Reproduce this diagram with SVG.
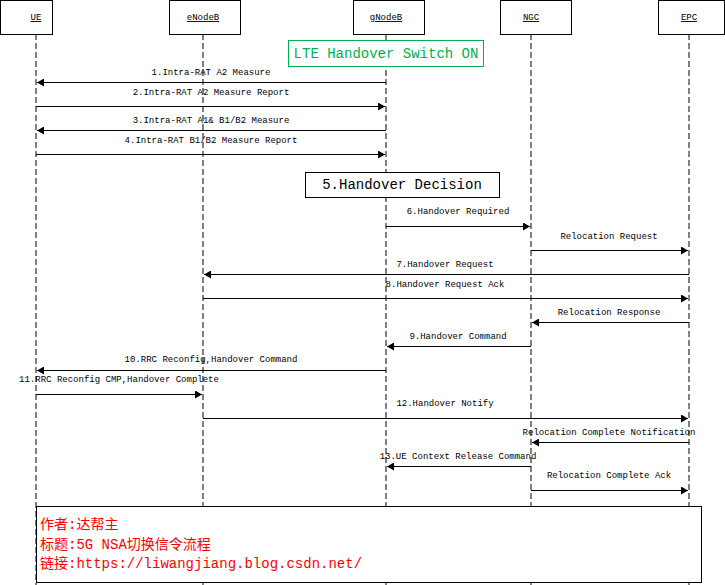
<svg xmlns="http://www.w3.org/2000/svg" width="725" height="585" viewBox="0 0 725 585">
<defs>
<marker id="ah" markerWidth="8" markerHeight="8" refX="7" refY="4" orient="auto" markerUnits="userSpaceOnUse"><path d="M0,0 L7,4 L0,8 Z" fill="#000"/></marker>
<style>
.hb{fill:#fff;stroke:#000;stroke-width:1}
.ht{font-family:"Liberation Mono",monospace;font-size:9px;text-decoration:underline;text-anchor:middle}
.ll{stroke:#000;stroke-dasharray:6,3;stroke-width:1}
.m{stroke:#000;stroke-width:1;fill:none;marker-end:url(#ah)}
.t{font-family:"Liberation Mono",monospace;font-size:9px;text-anchor:middle}
.cn{font-family:"Liberation Mono","Noto Sans CJK SC",monospace;font-size:14px;fill:#f00}
</style>
</defs>
<rect width="725" height="585" fill="#fff"/>
<g id="lifelines">
<line class="ll" x1="36" y1="34" x2="36" y2="585"/>
<line class="ll" x1="203" y1="34" x2="203" y2="585"/>
<line class="ll" x1="386" y1="34" x2="386" y2="585"/>
<line class="ll" x1="531" y1="34" x2="531" y2="585"/>
<line class="ll" x1="689" y1="34" x2="689" y2="585"/>
</g>
<g id="UE"><rect class="hb" x="0.5" y="0.5" width="52" height="34"/><text class="ht" x="36" y="20">UE</text></g>
<g id="eNodeB"><rect class="hb" x="169.5" y="0.5" width="71" height="34"/><text class="ht" x="203" y="20">eNodeB</text></g>
<g id="gNodeB"><rect class="hb" x="353.5" y="0.5" width="71" height="34"/><text class="ht" x="386" y="20">gNodeB</text></g>
<g id="NGC"><rect class="hb" x="500.5" y="0.5" width="71" height="34"/><text class="ht" x="531" y="20">NGC</text></g>
<g id="EPC"><rect class="hb" x="658.5" y="0.5" width="66" height="34"/><text class="ht" x="689" y="20">EPC</text></g>
<g id="lte"><rect x="288.5" y="40.5" width="195" height="26" fill="#fff" stroke="#00b050"/><text x="386" y="58" text-anchor="middle" font-family="Liberation Mono,monospace" font-size="14" fill="#00b050">LTE Handover Switch ON</text></g>
<g id="decision"><rect x="305.5" y="172.5" width="194" height="25" fill="#fff" stroke="#000"/><text x="402" y="189" text-anchor="middle" font-family="Liberation Mono,monospace" font-size="14">5.Handover Decision</text></g>
<g id="connectors">
<line class="m" x1="386" y1="82.5" x2="37" y2="82.5"/><text class="t" x="211" y="75">1.Intra-RAT A2 Measure</text>
<line class="m" x1="36" y1="106.5" x2="385" y2="106.5"/><text class="t" x="211" y="95">2.Intra-RAT A2 Measure Report</text>
<line class="m" x1="386" y1="130.5" x2="37" y2="130.5"/><text class="t" x="211" y="123">3.Intra-RAT A1&amp; B1/B2 Measure</text>
<line class="m" x1="36" y1="154.5" x2="385" y2="154.5"/><text class="t" x="211" y="143">4.Intra-RAT B1/B2 Measure Report</text>
<line class="m" x1="386" y1="226.5" x2="530" y2="226.5"/><text class="t" x="458" y="214">6.Handover Required</text>
<line class="m" x1="531" y1="250.5" x2="688" y2="250.5"/><text class="t" x="609" y="239">Relocation Request</text>
<line class="m" x1="689" y1="274.5" x2="204" y2="274.5"/><text class="t" x="445" y="267">7.Handover Request</text>
<line class="m" x1="203" y1="298.5" x2="688" y2="298.5"/><text class="t" x="445" y="287">8.Handover Request Ack</text>
<line class="m" x1="689" y1="322.5" x2="532" y2="322.5"/><text class="t" x="609" y="315">Relocation Response</text>
<line class="m" x1="531" y1="346.5" x2="387" y2="346.5"/><text class="t" x="458" y="339">9.Handover Command</text>
<line class="m" x1="386" y1="370.5" x2="37" y2="370.5"/><text class="t" x="211" y="362">10.RRC Reconfig,Handover Command</text>
<line class="m" x1="36" y1="394.5" x2="202" y2="394.5"/><text class="t" x="119" y="382">11.RRC Reconfig CMP,Handover Complete</text>
<line class="m" x1="203" y1="418.5" x2="688" y2="418.5"/><text class="t" x="445" y="406">12.Handover Notify</text>
<line class="m" x1="689" y1="442.5" x2="532" y2="442.5"/><text class="t" x="609" y="435">Relocation Complete Notification</text>
<line class="m" x1="531" y1="466.5" x2="387" y2="466.5"/><text class="t" x="458" y="459">13.UE Context Release Command</text>
<line class="m" x1="531" y1="490.5" x2="688" y2="490.5"/><text class="t" x="609" y="478">Relocation Complete Ack</text>
</g>
<g id="note">
<rect x="36.5" y="506.5" width="665" height="76" fill="#fff" stroke="#000"/>
<text class="cn" x="40" y="529">作者:达帮主</text>
<text class="cn" x="40" y="549">标题:5G NSA切换信令流程</text>
<text class="cn" x="40" y="568">链接:https://liwangjiang.blog.csdn.net/</text>
</g>
</svg>
